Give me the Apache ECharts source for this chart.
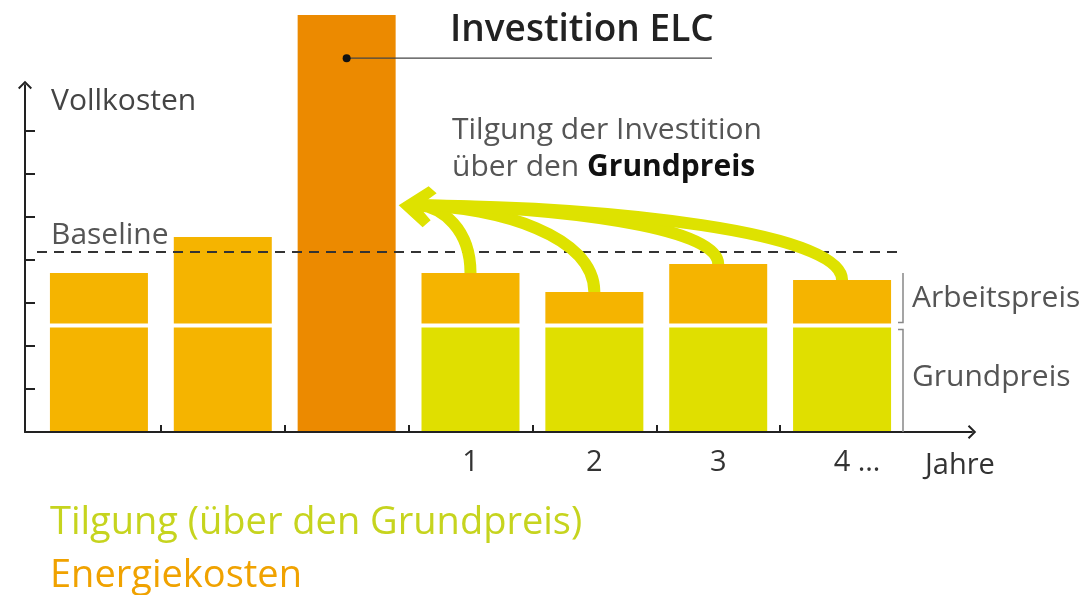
<!DOCTYPE html>
<html>
<head>
<meta charset="utf-8">
<script src="https://cdn.jsdelivr.net/npm/echarts@6/dist/echarts.min.js"></script>
<style>
  html, body { margin: 0; padding: 0; background: #fff; }
  #chart { width: 1085px; height: 595px; }
</style>
</head>
<body>
<div id="chart"></div>
<script>
// Daten (Einheiten = Teilstriche der Vollkosten-Achse)
const categories = ['', '', '', '1', '2', '3', { value: '4 …', textStyle: { padding: [0, 0, 0, 30] } }];
const energieGrund = [2.52, 2.52, '-', '-', '-', '-', '-'];
const tilgung = ['-', '-', '-', 2.52, 2.52, 2.52, 2.52];
const arbeitspreis = [1.26, 2.10, '-', 1.26, 0.82, 1.47, 1.10];
const investition = ['-', '-', 9.77, '-', '-', '-', '-'];
const baseline = 4.22;
const yTicks = [1, 2, 3, 4, 5, 6, 7];
const xTicks = [1, 2, 3, 4, 5, 6];
const tilgungsJahre = [3, 4, 5, 6];

const FONT = '"Open Sans", sans-serif';
const ORANGE = '#f5b400';
const DARK = '#ec8a00';
const YELLOW = '#e0df00';
const ARROW = '#dee200';
const AXIS = '#222';

const chart = echarts.init(document.getElementById('chart'));
const arrowPath = 'path://M0,10 L10,0 L20,10 L18,12 L10,4 L2,12 Z';
const barStyle = { borderColor: '#fff', borderWidth: 2 };

chart.setOption({
  animation: false,
  textStyle: { fontFamily: FONT },
  legend: {
    data: [
      { name: 'Tilgung (über den Grundpreis)', textStyle: { color: '#c6d41e' } },
      { name: 'Energiekosten', textStyle: { color: '#f0a200' } }
    ],
    orient: 'vertical',
    left: 45,
    top: 504,
    padding: 0,
    icon: 'none',
    itemWidth: 0,
    itemHeight: 10,
    itemGap: 15,
    selectedMode: false,
    textStyle: { fontSize: 38, lineHeight: 36, fontFamily: FONT }
  },
  grid: [
    { left: 37, width: 867, top: 3, height: 431 },   // Balken
    { left: 25, width: 947, top: 85, height: 347 }   // Achsen mit Pfeilen
  ],
  xAxis: [
    {
      gridIndex: 0,
      type: 'category',
      data: categories,
      axisLine: { show: false },
      axisTick: { show: false },
      axisLabel: { fontSize: 29, color: '#333', margin: 14, fontFamily: FONT }
    },
    {
      gridIndex: 1,
      type: 'value',
      z: 5,
      min: -0.097,
      max: 7.549,
      splitLine: { show: false },
      axisLabel: { show: false },
      axisLine: {
        show: true,
        onZero: false,
        symbol: ['none', arrowPath],
        symbolSize: [14, 9],
        lineStyle: { color: AXIS, width: 2 }
      },
      axisTick: {
        show: true, inside: true, length: 7, customValues: xTicks,
        lineStyle: { color: AXIS, width: 2 }
      },
      name: 'Jahre',
      nameLocation: 'end',
      nameGap: -47,
      nameTextStyle: {
        fontSize: 29, color: '#333', fontFamily: FONT,
        align: 'left', verticalAlign: 'top', padding: [19, 0, 0, 0]
      }
    }
  ],
  yAxis: [
    { gridIndex: 0, type: 'value', min: 0, max: 10, show: false },
    {
      gridIndex: 1,
      type: 'value',
      z: 5,
      min: 0,
      max: 8.05,
      splitLine: { show: false },
      axisLabel: { show: false },
      axisLine: {
        show: true,
        onZero: false,
        symbol: ['none', arrowPath],
        symbolSize: [14, 9],
        lineStyle: { color: AXIS, width: 2 }
      },
      axisTick: {
        show: true, inside: true, length: 10, customValues: yTicks,
        lineStyle: { color: AXIS, width: 2 }
      },
      name: 'Vollkosten',
      nameLocation: 'end',
      nameGap: -16,
      nameTextStyle: {
        fontSize: 30, color: '#444', fontFamily: FONT,
        align: 'left', verticalAlign: 'middle', padding: [0, 0, 0, 26]
      }
    }
  ],
  series: [
    {
      name: 'Energiekosten', type: 'bar', stack: 'k', xAxisIndex: 0, yAxisIndex: 0,
      barWidth: 102, data: energieGrund,
      itemStyle: Object.assign({ color: ORANGE }, barStyle)
    },
    {
      name: 'Tilgung (über den Grundpreis)', type: 'bar', stack: 'k', xAxisIndex: 0, yAxisIndex: 0,
      data: tilgung,
      itemStyle: Object.assign({ color: YELLOW }, barStyle)
    },
    {
      name: 'Energiekosten', type: 'bar', stack: 'k', xAxisIndex: 0, yAxisIndex: 0,
      data: arbeitspreis,
      itemStyle: Object.assign({ color: ORANGE }, barStyle)
    },
    {
      name: 'Energiekosten', type: 'bar', stack: 'k', xAxisIndex: 0, yAxisIndex: 0,
      data: investition,
      itemStyle: Object.assign({ color: DARK }, barStyle),
      markLine: {
        silent: true,
        z: 5,
        symbol: ['none', 'none'],
        lineStyle: { type: [10, 7], color: '#333', width: 2 },
        label: {
          show: true, formatter: 'Baseline', position: 'insideStartTop', distance: 2,
          fontSize: 30, color: '#555', fontFamily: FONT, padding: [0, 0, 0, 12]
        },
        data: [{ yAxis: baseline }]
      }
    }
  ]
});

// Anmerkungen: Pfeile, Leitlinie, Klammern
function drawAnnotations() {
  const px = (i, v) => chart.convertToPixel({ gridIndex: 0 }, [i, v]);
  const tip = px(2, 5.31);
  tip[0] += 52;
  const ex = tip[0] + 20, ey = tip[1];
  const g = [];

  tilgungsJahre.forEach(i => {
    const top = px(i, tilgung[i] + arbeitspreis[i]);
    const sx = top[0], sy = top[1] + 2;
    const d = sx - ex;
    g.push({
      type: 'bezierCurve', z: 10,
      shape: {
        x1: sx, y1: sy,
        cpx1: sx, cpy1: ey + 0.35 * (sy - ey),
        cpx2: ex + 0.45 * d, cpy2: ey + 2,
        x2: ex, y2: ey
      },
      style: { stroke: ARROW, lineWidth: 12, fill: 'none' }
    });
  });
  g.push({
    type: 'polygon', z: 10,
    shape: {
      points: [
        [tip[0], tip[1]], [tip[0] + 30, tip[1] - 19], [tip[0] + 38, tip[1] - 12],
        [tip[0] + 20, tip[1] + 1], [tip[0] + 32, tip[1] + 15], [tip[0] + 24, tip[1] + 22]
      ]
    },
    style: { fill: ARROW }
  });

  // Investition ELC
  const dot = px(2, 8.72);
  g.push({ type: 'line', z: 10, shape: { x1: dot[0], y1: dot[1], x2: 712, y2: dot[1] }, style: { stroke: '#444', lineWidth: 1.2 } });
  g.push({ type: 'circle', z: 11, shape: { cx: dot[0], cy: dot[1], r: 4 }, style: { fill: '#111' } });
  g.push({
    type: 'text', z: 10, left: 450, top: 12,
    style: { text: 'Investition ELC', font: '600 37px ' + FONT, fill: '#222' }
  });
  g.push({
    type: 'text', z: 10, left: 452, top: 115,
    style: {
      text: '{n|Tilgung der Investition}\n{n|über den }{b|Grundpreis}',
      rich: {
        n: { font: '30px ' + FONT, fill: '#555', lineHeight: 37 },
        b: { font: '700 30px ' + FONT, fill: '#111', lineHeight: 37 }
      }
    }
  });

  // Klammern rechts
  const seam = px(3, tilgung[3])[1];
  const topA = px(3, tilgung[3] + arbeitspreis[3])[1] + 2;
  const base = px(3, 0)[1] - 2;
  const bx = 903;
  g.push({ type: 'polyline', z: 10, shape: { points: [[bx, topA], [bx, seam - 3], [bx - 5, seam - 3]] }, style: { stroke: '#888', lineWidth: 1.5, fill: 'none' } });
  g.push({ type: 'polyline', z: 10, shape: { points: [[bx - 5, seam + 4], [bx, seam + 4], [bx, base]] }, style: { stroke: '#888', lineWidth: 1.5, fill: 'none' } });
  g.push({ type: 'text', z: 10, left: 912, top: 283, style: { text: 'Arbeitspreis', font: '30px ' + FONT, fill: '#555' } });
  g.push({ type: 'text', z: 10, left: 912, top: 362, style: { text: 'Grundpreis', font: '30px ' + FONT, fill: '#555' } });

  chart.setOption({ graphic: g });
}
drawAnnotations();
</script>
</body>
</html>
